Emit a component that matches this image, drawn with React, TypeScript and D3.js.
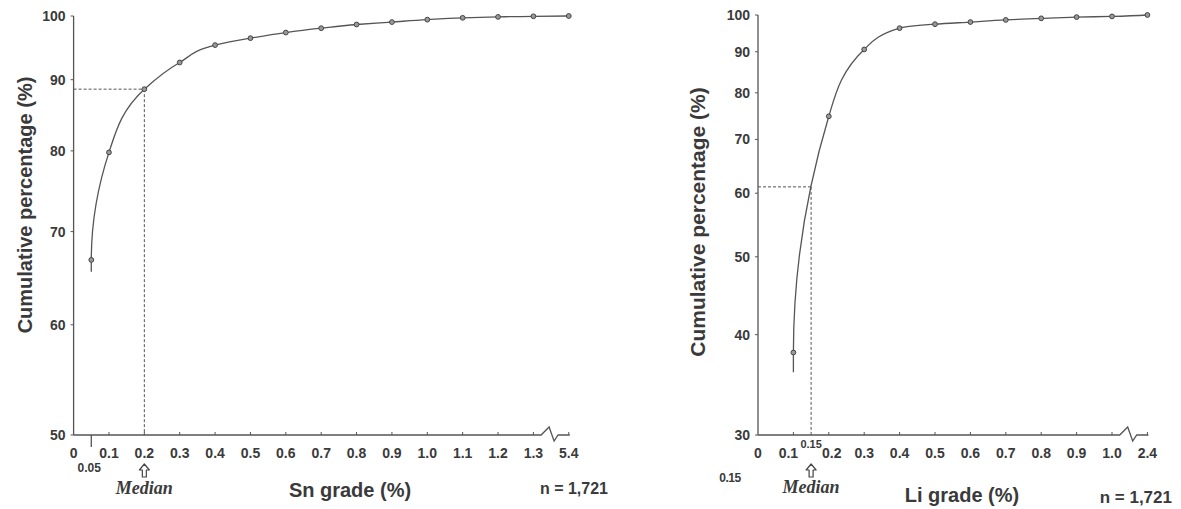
import React from "react";
import * as d3 from "d3";

// ---- Data ----
const snGrade = [0.05, 0.1, 0.2, 0.3, 0.4, 0.5, 0.6, 0.7, 0.8, 0.9, 1.0, 1.1, 1.2, 1.3, 5.4];
const snCum = [66.8, 79.8, 88.6, 92.6, 95.3, 96.4, 97.3, 98.0, 98.6, 99.0, 99.4, 99.7, 99.85, 99.95, 100];
const snTailCum = 65.5;
const snMedian = { grade: 0.2, cum: 88.6 };
const snXTicks = [0, 0.1, 0.2, 0.3, 0.4, 0.5, 0.6, 0.7, 0.8, 0.9, 1.0, 1.1, 1.2, 1.3, 5.4];
const snYTicks = [50, 60, 70, 80, 90, 100];

const liGrade = [0.1, 0.2, 0.3, 0.4, 0.5, 0.6, 0.7, 0.8, 0.9, 1.0, 2.4];
const liCum = [38.0, 74.8, 90.6, 96.3, 97.4, 98.0, 98.6, 99.05, 99.4, 99.6, 100];
const liTailCum = 35.9;
const liMedian = { grade: 0.15, cum: 61.1 };
const liXTicks = [0, 0.1, 0.2, 0.3, 0.4, 0.5, 0.6, 0.7, 0.8, 0.9, 1.0, 2.4];
const liYTicks = [30, 40, 50, 60, 70, 80, 90, 100];

const FONT = "'Liberation Sans', Arial, Helvetica, sans-serif";
const SERIF = "'Liberation Serif', 'Times New Roman', serif";
const TXT = "#3a3a3a";
const LINE = "#555";

type ChartProps = {
  grade: number[];
  cum: number[];
  tail: number;
  median: { grade: number; cum: number };
  xTicks: number[];
  yTicks: number[];
  yMin: number;
  breakAt: number;
  x0: number;
  step: number;
  yTop: number;
  yBottom: number;
  yLabel: { x: number; y: number; size: number };
  xLabel: { text: string; x: number; y: number; size: number };
  nLabel: { x: number; y: number; size: number };
  medianLabelY: number;
  labelShift?: Record<string, number>;
  extra?: React.ReactNode;
};

function fmt(v: number) {
  return v === 0 ? "0" : v.toFixed(1);
}

function UpArrow({ x, y }: { x: number; y: number }) {
  const p = d3.path();
  p.moveTo(x, y);
  p.lineTo(x + 5, y + 6);
  p.lineTo(x + 2, y + 6);
  p.lineTo(x + 2, y + 13);
  p.lineTo(x - 2, y + 13);
  p.lineTo(x - 2, y + 6);
  p.lineTo(x - 5, y + 6);
  p.closePath();
  return <path d={p.toString()} fill="#fff" stroke="#444" strokeWidth={1.2} strokeLinejoin="round" />;
}

function Chart(props: ChartProps) {
  const { grade, cum, tail, median, xTicks, yTicks, yMin, breakAt, x0, step, yTop, yBottom } = props;
  const last = xTicks[xTicks.length - 1];
  const nReg = Math.round(breakAt * 10);
  const x = d3.scaleLinear().domain([0, breakAt, last]).range([x0, x0 + nReg * step, x0 + (nReg + 1) * step]);
  const y = d3.scaleLog().domain([yMin, 100]).range([yBottom, yTop]);

  const pts: [number, number][] = grade.map((g, i) => [x(g), y(cum[i])]);
  // curve drawn top-down as x(y), starting with a vertical tangent at the tail
  const curvePts: [number, number][] = [...pts].reverse();
  curvePts.push([x(grade[0]), y(tail)]);
  const line = d3.line().curve(d3.curveMonotoneY)(curvePts) || "";

  const bx = x(breakAt) + step * 0.5;
  const axisEnd = x(last) + 1;
  const zz = d3.path();
  zz.moveTo(x0, yBottom);
  zz.lineTo(bx - 10, yBottom);
  zz.lineTo(bx - 2, yBottom - 8);
  zz.lineTo(bx + 3, yBottom + 6);
  zz.lineTo(bx + 7, yBottom);
  zz.lineTo(axisEnd, yBottom);

  const mx = x(median.grade);
  const my = y(median.cum);
  const shift = props.labelShift || {};

  return (
    <g>
      <line x1={x0} x2={mx} y1={my} y2={my} stroke="#555" strokeWidth={1} strokeDasharray="3,2" />
      <line x1={mx} x2={mx} y1={my} y2={yBottom} stroke="#555" strokeWidth={1} strokeDasharray="3,2" />

      <line x1={x0} x2={x0} y1={yTop} y2={yBottom} stroke={LINE} strokeWidth={1.3} />
      {yTicks.map((t) => (
        <g key={"y" + t}>
          <line x1={x0 - 3} x2={x0} y1={y(t)} y2={y(t)} stroke={LINE} strokeWidth={1} />
          <text x={x0 - 8} y={y(t) + 5} textAnchor="end" fontFamily={FONT} fontWeight="bold" fontSize={14} fill={TXT}>
            {t}
          </text>
        </g>
      ))}

      <path d={zz.toString()} fill="none" stroke={LINE} strokeWidth={1.3} />
      {xTicks.filter((t) => t > 0).map((t) => (
        <line key={"xt" + t} x1={x(t)} x2={x(t)} y1={yBottom - 3} y2={yBottom} stroke={LINE} strokeWidth={1} />
      ))}
      {xTicks.map((t) => (
        <text
          key={"xl" + t}
          x={x(t) + (shift[fmt(t)] || 0)}
          y={yBottom + 23}
          textAnchor="middle"
          fontFamily={FONT}
          fontWeight="bold"
          fontSize={14}
          fill={TXT}
        >
          {fmt(t)}
        </text>
      ))}

      <path d={line} fill="none" stroke={LINE} strokeWidth={1.3} />
      {pts.map((p, i) => (
        <circle key={"p" + i} cx={p[0]} cy={p[1]} r={2.4} fill="#999" stroke="#444" strokeWidth={1} />
      ))}

      <UpArrow x={mx} y={yBottom + 29} />
      <text x={mx} y={props.medianLabelY} textAnchor="middle" fontFamily={SERIF} fontStyle="italic" fontWeight="bold" fontSize={18} fill={TXT}>
        Median
      </text>

      <text
        transform={`translate(${props.yLabel.x},${props.yLabel.y}) rotate(-90)`}
        textAnchor="middle"
        dominantBaseline="central"
        fontFamily={FONT}
        fontWeight="bold"
        fontSize={props.yLabel.size}
        fill={TXT}
      >
        Cumulative percentage (%)
      </text>
      <text x={props.xLabel.x} y={props.xLabel.y} textAnchor="middle" fontFamily={FONT} fontWeight="bold" fontSize={props.xLabel.size} fill={TXT}>
        {props.xLabel.text}
      </text>
      <text x={props.nLabel.x} y={props.nLabel.y} textAnchor="end" fontFamily={FONT} fontWeight="bold" fontSize={props.nLabel.size} fill={TXT}>
        n = 1,721
      </text>
      {props.extra}
    </g>
  );
}

export default function App() {
  const snX = d3.scaleLinear().domain([0, 1]).range([73.6, 73.6 + 353.7]);
  const liX = d3.scaleLinear().domain([0, 1]).range([758, 758 + 354]);
  return (
    <svg width={1181} height={509} style={{ position: "absolute", left: 0, top: 0, background: "#fff" }}>
      <Chart
        grade={snGrade}
        cum={snCum}
        tail={snTailCum}
        median={snMedian}
        xTicks={snXTicks}
        yTicks={snYTicks}
        yMin={50}
        breakAt={1.3}
        x0={73.6}
        step={35.37}
        yTop={16}
        yBottom={435}
        yLabel={{ x: 25, y: 205, size: 20 }}
        xLabel={{ text: "Sn grade (%)", x: 350, y: 497, size: 20 }}
        nLabel={{ x: 608, y: 494, size: 16 }}
        medianLabelY={494}
        extra={
          <g>
            <line x1={snX(0.05)} x2={snX(0.05)} y1={435} y2={447} stroke={LINE} strokeWidth={1.3} />
            <text x={snX(0.05) - 2} y={472} textAnchor="middle" fontFamily={FONT} fontWeight="bold" fontSize={12} fill={TXT}>
              0.05
            </text>
          </g>
        }
      />
      <Chart
        grade={liGrade}
        cum={liCum}
        tail={liTailCum}
        median={liMedian}
        xTicks={liXTicks}
        yTicks={liYTicks}
        yMin={30}
        breakAt={1.0}
        x0={758}
        step={35.4}
        yTop={15}
        yBottom={435}
        yLabel={{ x: 697, y: 222, size: 21 }}
        xLabel={{ text: "Li grade (%)", x: 962, y: 502, size: 20 }}
        nLabel={{ x: 1172, y: 503, size: 17 }}
        medianLabelY={493}
        labelShift={{ "0.1": -5, "0.2": 3 }}
        extra={
          <g>
            <text x={liX(0.15)} y={448} textAnchor="middle" fontFamily={FONT} fontWeight="bold" fontSize={11} fill={TXT}>
              0.15
            </text>
            <text x={730} y={482} textAnchor="middle" fontFamily={FONT} fontWeight="bold" fontSize={12} fill={TXT} letterSpacing={-0.5}>
              0.15
            </text>
          </g>
        }
      />
    </svg>
  );
}
